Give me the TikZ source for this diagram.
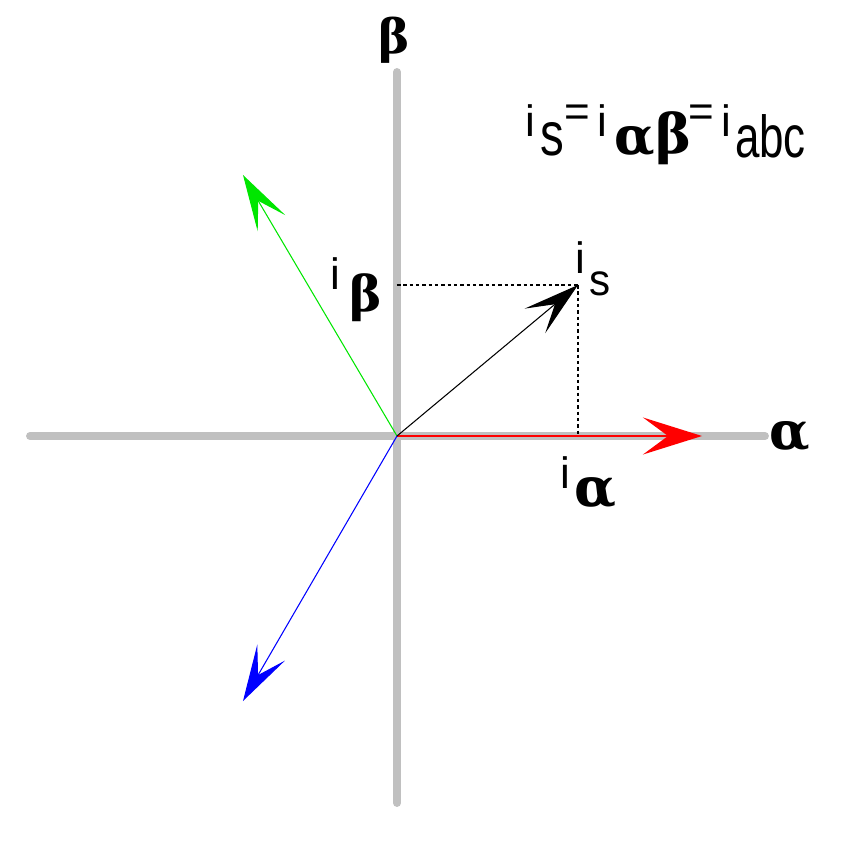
\documentclass[tikz,border=0pt]{standalone}
\usepackage{fontspec}
\usepackage{graphicx}
\setmainfont{Liberation Sans}
\newfontfamily\grkfont{DejaVu Serif}
\usetikzlibrary{arrows.meta}
\definecolor{axisgray}{RGB}{192,192,192}
\definecolor{phgreen}{RGB}{0,230,0}
\newcommand{\lsz}[1]{\fontsize{#1}{#1}\selectfont}
\newcommand{\tall}[2]{\scalebox{1}[#1]{#2}}
\tikzset{
  axisline/.style={line width=4.5pt, color=axisgray, line cap=round},
  phasor/.style={line width=0.6pt, -{Stealth[length=1.12cm, width=0.64cm, inset=0.52cm]}},
  proj/.style={line width=0.6pt, dash pattern=on 2pt off 1.6pt},
  txt/.style={inner sep=0pt, outer sep=0pt},
  grk/.style={txt, font=\grkfont\bfseries\lsz{#1}}
}

\begin{document}
\begin{tikzpicture}
        \useasboundingbox (-7.94,-8.48) rectangle (9.08,8.72);

        % axes
        \coordinate (O) at (0,0);
        \coordinate (axL) at (-7.34,0);
        \coordinate (axR) at (7.36,0);
        \coordinate (axT) at (0,7.28);
        \coordinate (axB) at (0,-7.34);
        \draw[axisline] (axL) -- (axR);
        \draw[axisline] (axB) -- (axT);

        % phasor tips
        \coordinate (tipS) at (3.62,3.02);
        \coordinate (tipA) at (6.1,0);
        \coordinate (tipG) at (-3.08,5.22);
        \coordinate (tipB) at (-3.08,-5.3);
        \coordinate (projB) at (0,3.02);
        \coordinate (projA) at (3.62,0);

        % projections
        \draw[proj] (projB) -- (tipS);
        \draw[proj] (tipS) -- (projA);

        % vectors
        \draw[phasor, red, line width=1pt, -{Stealth[length=1.18cm, width=0.74cm, inset=0.5cm]}] (O) -- (tipA);
        \draw[phasor, phgreen] (O) -- (tipG);
        \draw[phasor, blue] (O) -- (tipB);
        \draw[phasor, black] (O) -- (tipS);

        % axis labels
        \node[grk=27] (betaAx) at (-0.06,7.92) {β};
        \node[grk=30] (alphaAx) at (7.86,0) {α};

        % component labels
        \node[txt, font=\lsz{25}] (ib) at (-1.24,3.24) {i};
        \node[grk=28] (ibSub) at (-0.62,2.77) {β};
        \node[txt, font=\lsz{25}] (is) at (3.67,3.57) {i};
        \node[txt, font=\lsz{24}] (isSub) at (4.06,3.04) {\tall{1.05}{s}};
        \node[txt, font=\lsz{25}] (ia) at (3.36,-0.73) {i};
        \node[grk=31] (iaSub) at (3.96,-1.14) {α};

        % formula
        \node[txt, font=\lsz{25}] (fI1) at (2.67,6.30) {i};
        \node[txt, font=\lsz{25}] (fS) at (3.11,5.94) {\scalebox{1.08}[1.4]{s}};
        \node[txt, font=\lsz{25}] (fEq1) at (3.6,6.40) {=};
        \node[txt, font=\lsz{25}] (fI2) at (4.1,6.30) {i};
        \node[grk=30] (fAl) at (4.76,5.90) {α};
        \node[grk=31] (fBe) at (5.53,5.95) {β};
        \node[txt, font=\lsz{25}] (fEq2) at (6.09,6.40) {=};
        \node[txt, font=\lsz{25}] (fI3) at (6.58,6.30) {i};
        \node[txt, font=\lsz{25}] (fAbc) at (7.47,6.0) {\tall{1.35}{abc}};

    \end{tikzpicture}
\end{document}
